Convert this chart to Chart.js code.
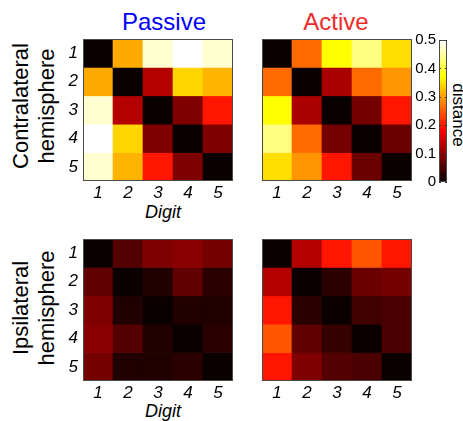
<!DOCTYPE html>
<html><head><meta charset="utf-8">
<script src="https://cdn.jsdelivr.net/npm/chart.js@4/dist/chart.umd.min.js"></script>
<style>
body{margin:0;background:#fff;width:463px;height:421px;position:relative;overflow:hidden;font-family:"Liberation Sans",Arial,Helvetica,sans-serif;color:#000;}
canvas{position:absolute;}
.t{position:absolute;white-space:nowrap;}
.rot{position:absolute;text-align:center;font-size:22px;line-height:26px;transform:rotate(-90deg);}
</style></head><body>
<div class="t" style="left:104px;top:10px;width:120px;text-align:center;font-size:24px;line-height:24px;color:#0000ff;">Passive</div>
<div class="t" style="left:276px;top:10px;width:120px;text-align:center;font-size:24px;line-height:24px;color:#ee2a2a;">Active</div>
<div class="rot" style="left:-46px;top:80px;width:160px;height:52px;">Contralateral<br>hemisphere</div>
<div class="rot" style="left:-46px;top:282px;width:160px;height:52px;">Ipsilateral<br>hemisphere</div>
<div class="t" style="left:118px;top:202px;width:90px;text-align:center;font-size:18px;line-height:20px;font-style:italic;">Digit</div>
<div class="t" style="left:118px;top:401px;width:90px;text-align:center;font-size:18px;line-height:20px;font-style:italic;">Digit</div>
<div class="t" style="left:422px;top:106px;width:72px;text-align:center;font-size:17px;line-height:18px;transform:rotate(90deg);">distance</div>
<script>
const digits = ['1','2','3','4','5'];
const passiveContra = [
  [0.00, 0.31, 0.47, 0.50, 0.47],
  [0.31, 0.00, 0.13, 0.34, 0.32],
  [0.47, 0.13, 0.00, 0.088, 0.20],
  [0.50, 0.34, 0.088, 0.00, 0.088],
  [0.47, 0.32, 0.20, 0.088, 0.00]
];
const activeContra = [
  [0.00, 0.265, 0.37, 0.43, 0.345],
  [0.265, 0.00, 0.118, 0.265, 0.29],
  [0.37, 0.118, 0.00, 0.082, 0.20],
  [0.43, 0.265, 0.082, 0.00, 0.077],
  [0.345, 0.29, 0.20, 0.077, 0.00]
];
const passiveIpsi = [
  [0.00, 0.059, 0.09, 0.094, 0.082],
  [0.063, 0.00, 0.018, 0.063, 0.024],
  [0.09, 0.018, 0.00, 0.02, 0.02],
  [0.094, 0.06, 0.02, 0.00, 0.024],
  [0.082, 0.022, 0.02, 0.024, 0.00]
];
const activeIpsi = [
  [0.00, 0.13, 0.20, 0.245, 0.20],
  [0.13, 0.00, 0.03, 0.072, 0.085],
  [0.20, 0.03, 0.00, 0.042, 0.053],
  [0.245, 0.065, 0.036, 0.00, 0.047],
  [0.20, 0.09, 0.06, 0.053, 0.00]
];
const colorbarTicks = [0, 0.1, 0.2, 0.3, 0.4, 0.5];
const cMin = 0, cMax = 0.5;

const FONT = '"Liberation Sans", Arial, Helvetica, sans-serif';
function hotIdx(i){
  const c = x => Math.max(0, Math.min(1, x));
  const r = c((i+1)/24), g = c((i+1-24)/24), b = c((i+1-48)/16);
  return 'rgb(' + Math.round(r*255) + ',' + Math.round(g*255) + ',' + Math.round(b*255) + ')';
}
function hot(v){
  let i = Math.floor((v - cMin)/(cMax - cMin)*64);
  i = Math.max(0, Math.min(63, i));
  return hotIdx(i);
}
const frame = {
  id: 'frame',
  afterDatasetsDraw(chart){
    const a = chart.chartArea, ctx = chart.ctx;
    ctx.save();
    ctx.strokeStyle = '#4a4a4a';
    ctx.lineWidth = 1;
    ctx.strokeRect(Math.round(a.left)+0.5, Math.round(a.top)+0.5, Math.round(a.right-a.left)-1, Math.round(a.bottom-a.top)-1);
    ctx.restore();
  }
};
function makeCanvas(left, top, w, h){
  const cv = document.createElement('canvas');
  cv.width = w; cv.height = h;
  cv.style.left = left + 'px'; cv.style.top = top + 'px';
  cv.style.width = w + 'px'; cv.style.height = h + 'px';
  document.body.appendChild(cv);
  return cv;
}
const PW = 150, PH = 142, PL = 34, PB = 30, PT = 4, PR = 4;
function heat(matrix, left, top, showY){
  const cv = makeCanvas(left - PL, top - PT, PL + PW + PR, PT + PH + PB);
  new Chart(cv, {
    type: 'bar',
    data: {
      labels: digits,
      datasets: matrix.map((row, r) => ({
        data: row.map(() => [r + 0.5, r + 1.5]),
        backgroundColor: row.map(hot),
        borderWidth: 0,
        barPercentage: 1,
        categoryPercentage: 1,
        grouped: false
      }))
    },
    options: {
      responsive: false, animation: false, devicePixelRatio: 1,
      layout: {padding: {top: PT, right: PR, left: 0, bottom: 0}},
      plugins: {legend: {display: false}, tooltip: {enabled: false}},
      scales: {
        x: {
          type: 'category',
          grid: {display: false, drawTicks: false}, border: {display: false},
          ticks: {font: {family: FONT, size: 17, style: 'italic'}, color: '#000', padding: 2, maxRotation: 0},
          afterFit(s){ s.height = PB; s.paddingLeft = 0; s.paddingRight = 0; }
        },
        y: {
          type: 'linear', min: 0.5, max: 5.5, reverse: true,
          grid: {display: false, drawTicks: false}, border: {display: false},
          afterBuildTicks(s){ s.ticks = digits.map((d, i) => ({value: i + 1})); },
          ticks: {display: showY, font: {family: FONT, size: 17, style: 'italic'}, color: '#000', padding: 5,
            callback: v => digits[v - 1]},
          afterFit(s){ s.width = PL; s.paddingTop = 0; s.paddingBottom = 0; }
        }
      }
    },
    plugins: [frame]
  });
}
heat(passiveContra, 83, 39, true);
heat(activeContra, 262, 39, false);
heat(passiveIpsi, 83, 239, true);
heat(activeIpsi, 262, 239, false);

// colorbar
const CBW = 8, CBL = 34, CBT = 10;
const cbc = makeCanvas(439 - CBL, 40 - CBT, CBL + CBW + 2, CBT + PH + 10);
const cbTicks = {
  id: 'cbTicks',
  afterDatasetsDraw(chart){
    const a = chart.chartArea, ctx = chart.ctx, y = chart.scales.y;
    ctx.save(); ctx.strokeStyle = '#333'; ctx.lineWidth = 1;
    colorbarTicks.forEach(t => {
      const p = Math.round(y.getPixelForValue(t)) + 0.5;
      ctx.beginPath(); ctx.moveTo(a.left, p); ctx.lineTo(a.left + 2, p);
      ctx.moveTo(a.right, p); ctx.lineTo(a.right - 2, p); ctx.stroke();
    });
    ctx.restore();
  }
};
new Chart(cbc, {
  type: 'bar',
  data: {
    labels: ['c'],
    datasets: [{
      data: [[cMin, cMax]],
      backgroundColor(ctx){
        const a = ctx.chart.chartArea;
        if (!a) return '#000';
        const g = ctx.chart.ctx.createLinearGradient(0, a.bottom, 0, a.top);
        for (let i = 0; i < 64; i++){
          g.addColorStop(i/64, hotIdx(i));
          g.addColorStop((i+1)/64, hotIdx(i));
        }
        return g;
      },
      borderWidth: 0, barPercentage: 1, categoryPercentage: 1
    }]
  },
  options: {
    responsive: false, animation: false, devicePixelRatio: 1,
    layout: {padding: {top: CBT, right: 2, left: 0, bottom: 10}},
    plugins: {legend: {display: false}, tooltip: {enabled: false}},
    scales: {
      x: {display: false},
      y: {
        type: 'linear', min: cMin, max: cMax,
        grid: {display: false, drawTicks: false}, border: {display: false},
        afterBuildTicks(s){ s.ticks = colorbarTicks.map(v => ({value: v})); },
        ticks: {font: {family: FONT, size: 15}, color: '#000', padding: 3, callback: v => String(v)},
        afterFit(s){ s.width = CBL; s.paddingTop = 0; s.paddingBottom = 0; }
      }
    }
  },
  plugins: [frame, cbTicks]
});
</script>
</body></html>
